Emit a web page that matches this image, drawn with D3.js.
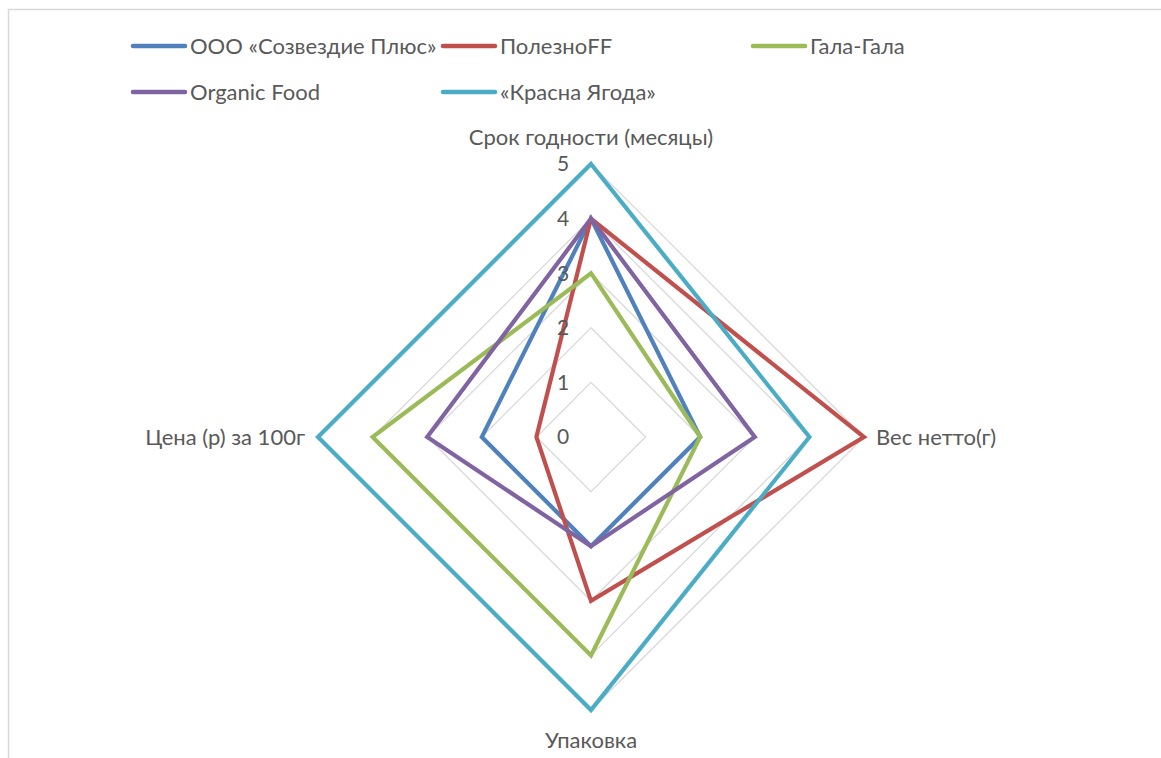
<!DOCTYPE html>
<html>
<head>
<meta charset="utf-8">
<script src="https://cdn.jsdelivr.net/npm/d3@7"></script>
<style>
  body { margin: 0; background: #fff; }
  svg { display: block; font-family: Lato, "Open Sans", sans-serif; }
</style>
</head>
<body>
<svg id="radar" width="1161" height="758"></svg>
<script>
// axes, clockwise from top
var axes = ["Срок годности (месяцы)", "Вес нетто(г)", "Упаковка", "Цена (р) за 100г"];
var ticks = [0, 1, 2, 3, 4, 5];

var seriesNames = ["ООО «Созвездие Плюс»", "ПолезноFF", "Гала-Гала", "Organic Food", "«Красна Ягода»"];
var seriesColors = ["#4f81bd", "#c0504d", "#9bbb59", "#8064a2", "#4bacc6"];

var sozvezdie = [4, 2, 2, 2];
var polezno = [4, 5, 3, 1];
var gala = [3, 2, 4, 4];
var organic = [4, 3, 2, 3];
var krasna = [5, 4, 5, 5];
var seriesValues = [sozvezdie, polezno, gala, organic, krasna];

var svg = d3.select('#radar');
var cx = 591, cy = 437, radius = 273;

// chart area border (clipped by the window)
svg.append("rect")
    .attr("x", 8.5).attr("y", 9.5)
    .attr("width", 1200).attr("height", 800)
    .attr("fill", "none")
    .attr("stroke", "#d9d9d9")
    .attr("stroke-width", 1.5);

var r = d3.scaleLinear().domain([0, 5]).range([0, radius]);
var angle = d3.scalePoint().domain(axes.concat(["_end"])).range([0, 2 * Math.PI]);

function pt(a, v) {
    var t = angle(a);
    return [cx + r(v) * Math.sin(t), cy - r(v) * Math.cos(t)];
}

var ring = d3.line().curve(d3.curveLinearClosed);

// grid rings
svg.selectAll(".grid")
    .data(ticks.filter(function(d) { return d > 0; }))
    .enter()
    .append("path")
    .attr("class", "grid")
    .attr("d", function(d) {
        return ring(axes.map(function(a) { return pt(a, d); }));
    })
    .attr("fill", "none")
    .attr("stroke", "#d9d9d9")
    .attr("stroke-width", 1.3);

// series
svg.selectAll(".series")
    .data(seriesValues)
    .enter()
    .append("path")
    .attr("class", "series")
    .attr("d", function(vals) {
        return ring(axes.map(function(a, i) { return pt(a, vals[i]); }));
    })
    .attr("fill", "none")
    .attr("stroke", function(d, i) { return seriesColors[i]; })
    .attr("stroke-width", 4.2)
    .attr("stroke-linejoin", "miter");

// tick labels
svg.selectAll(".tick")
    .data(ticks)
    .enter()
    .append("text")
    .attr("class", "tick")
    .attr("x", cx - 28)
    .attr("y", function(d) { return cy - r(d); })
    .attr("dy", "0.35em")
    .attr("text-anchor", "middle")
    .attr("font-size", 21)
    .attr("fill", "#595959")
    .text(function(d) { return d; });

// axis labels
var labelPos = [
    {x: cx, y: 137, anchor: "middle"},
    {x: 876, y: cy, anchor: "start"},
    {x: cx, y: 740, anchor: "middle"},
    {x: 305, y: cy, anchor: "end"}
];
svg.selectAll(".axis-label")
    .data(axes)
    .enter()
    .append("text")
    .attr("class", "axis-label")
    .attr("x", function(d, i) { return labelPos[i].x; })
    .attr("y", function(d, i) { return labelPos[i].y; })
    .attr("dy", "0.35em")
    .attr("text-anchor", function(d, i) { return labelPos[i].anchor; })
    .attr("font-size", 22)
    .attr("fill", "#595959")
    .text(function(d) { return d; });

// legend
var legendPos = [[133, 46], [443, 46], [753, 46], [133, 92], [443, 92]];
var legend = svg.selectAll(".legend")
    .data(seriesNames)
    .enter()
    .append("g")
    .attr("class", "legend")
    .attr("transform", function(d, i) {
        return "translate(" + legendPos[i][0] + "," + legendPos[i][1] + ")";
    });

legend.append("line")
    .attr("x1", 0).attr("x2", 52)
    .attr("y1", 0).attr("y2", 0)
    .attr("stroke", function(d, i) { return seriesColors[i]; })
    .attr("stroke-width", 4.5)
    .attr("stroke-linecap", "round");

legend.append("text")
    .attr("x", 57)
    .attr("y", 0)
    .attr("dy", "0.35em")
    .attr("font-size", 22)
    .attr("fill", "#595959")
    .text(function(d) { return d; });
</script>
</body>
</html>
